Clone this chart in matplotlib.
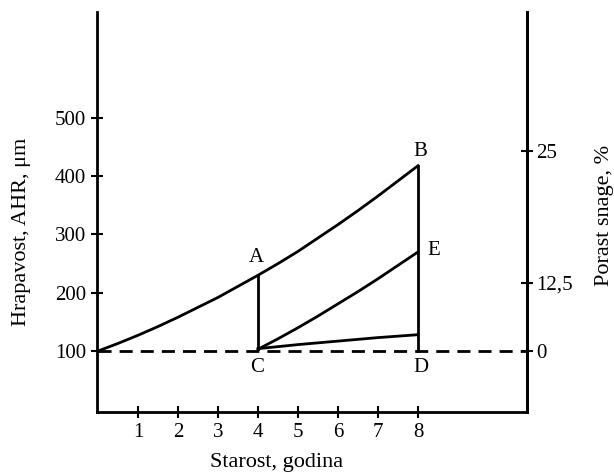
import numpy as np
import matplotlib.pyplot as plt

plt.rcParams['font.family'] = ['Liberation Serif', 'DejaVu Serif']

# starost (godina) i hrapavost (um)
x_ab = [0, 0.5, 1, 1.5, 2, 2.5, 3, 3.5, 4, 4.5, 5, 5.5, 6, 6.5, 7, 7.5, 8]
y_ab = [100, 113, 127, 142, 158, 175, 192, 211, 230, 250, 271, 294, 317, 341, 366, 392, 418]

x_ce = [4, 4.5, 5, 5.5, 6, 6.5, 7, 7.5, 8]
y_ce = [103, 121, 140, 160, 181, 202, 224, 247, 270]

x_low = [4, 5, 6, 7, 8]
y_low = [104, 111, 117, 123, 128]

x_ac = [4, 4]
y_ac = [230, 103]
x_bd = [8, 8]
y_bd = [418, 100]

x_ticks = [1, 2, 3, 4, 5, 6, 7, 8]
y_ticks = [100, 200, 300, 400, 500]
# desna osa (porast snage), pozicije u jedinicama lijeve ose
r_tick_pos = [100, 216.7, 443]
r_tick_lab = ['0', '12,5', '25']

fs = 15
lw = 2.0

fig = plt.figure(figsize=(6.14, 4.75), dpi=100)
ax = fig.add_axes([0.158, 0.1326, 0.700, 0.8424])
ax.set_xlim(-0.025, 10.72)
ax.set_ylim(-4.7, 682)

ax.plot(x_ab, y_ab, color='black', lw=lw)
ax.plot(x_ce, y_ce, color='black', lw=lw)
ax.plot(x_low, y_low, color='black', lw=lw)
ax.plot(x_ac, y_ac, color='black', lw=lw)
ax.plot(x_bd, y_bd, color='black', lw=lw)
ax.plot([0, 10.72], [100, 100], color='black', lw=lw, dashes=(4.7, 2.9))

# oznake tacaka
ax.text(3.95, 261, 'A', fontsize=fs, ha='center', va='center')
ax.text(8.05, 443, 'B', fontsize=fs, ha='center', va='center')
ax.text(3.98, 72, 'C', fontsize=fs, ha='center', va='center')
ax.text(8.08, 71, 'D', fontsize=fs, ha='center', va='center')
ax.text(8.4, 272, 'E', fontsize=fs, ha='center', va='center')

ax.spines['top'].set_visible(False)
for s in ['left', 'bottom', 'right']:
    ax.spines[s].set_linewidth(lw)

ax.set_xticks(x_ticks)
ax.set_yticks(y_ticks)
ax.tick_params(direction='inout', length=8, width=1.5, labelsize=fs, pad=4)

ax2 = ax.twinx()
ax2.set_ylim(ax.get_ylim())
ax2.set_yticks(r_tick_pos, r_tick_lab)
ax2.spines['top'].set_visible(False)
ax2.spines['right'].set_linewidth(lw)
ax2.tick_params(direction='inout', length=8, width=1.5, labelsize=fs, pad=3)

fig.text(0.035, 0.511, 'Hrapavost, AHR, μm', rotation=90, ha='center', va='center', fontsize=16)
fig.text(0.984, 0.547, 'Porast snage, %', rotation=90, ha='center', va='center', fontsize=16)
fig.text(0.451, 0.027, 'Starost, godina', ha='center', va='center', fontsize=16)

fig.savefig('out.png', dpi=100)
